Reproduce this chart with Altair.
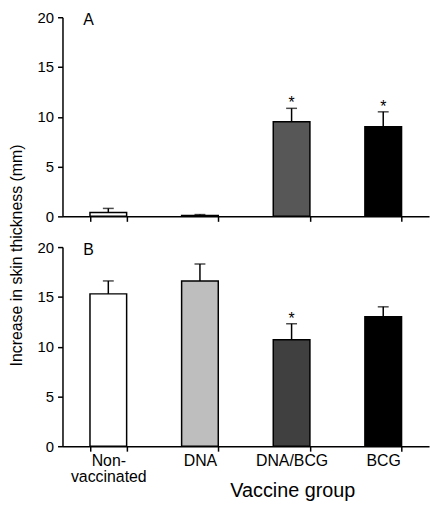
import altair as alt
import pandas as pd

categories = ["Non-vaccinated", "DNA", "DNA/BCG", "BCG"]
fills_a = ["#ffffff", "#bebebe", "#575757", "#000000"]
fills_b = ["#ffffff", "#bebebe", "#404040", "#000000"]

a_mean = [0.4, 0.1, 9.5, 9.0]
a_err = [0.4, 0.08, 1.35, 1.5]
a_sig = [False, False, True, True]

b_mean = [15.3, 16.6, 10.7, 13.0]
b_err = [1.3, 1.7, 1.6, 1.0]
b_sig = [False, False, True, False]

y_ticks = [0, 5, 10, 15, 20]
FONT = "Liberation Sans"
W, H = 370, 201


def frame(means, errs, sigs):
    return pd.DataFrame({
        "group": categories,
        "mean": means,
        "top": [m + e for m, e in zip(means, errs)],
        "sig": sigs,
    })


def panel(df, letter, fills, bottom):
    xscale = alt.Scale(domain=categories, paddingInner=0.6, paddingOuter=0.3)
    yscale = alt.Scale(domain=[0, 20], nice=False)
    if bottom:
        xaxis = alt.Axis(
            title="Vaccine group", tickBand="extent", tickSize=5, labelAngle=0,
            labelFontSize=16, labelPadding=1, labelLineHeight=17,
            labelExpr="datum.value == 'Non-vaccinated' ? ['Non-', 'vaccinated'] : datum.value",
            titleFontSize=20, titleFontWeight="normal", titleX=232, titleY=51,
            titleAlign="center", titleBaseline="alphabetic",
        )
        yaxis = alt.Axis(
            values=y_ticks, tickSize=5, labelFontSize=15, labelPadding=4, grid=False,
            title="Increase in skin thickness (mm)", titleFontSize=16,
            titleFontWeight="normal", titleX=-46, titleY=8, titleAngle=270,
            titleAlign="center", titleBaseline="middle",
        )
    else:
        xaxis = alt.Axis(title=None, labels=False, tickBand="extent", tickSize=5)
        yaxis = alt.Axis(values=y_ticks, tickSize=5, labelFontSize=15,
                         labelPadding=4, grid=False, title=None)

    base = alt.Chart(df)
    x = alt.X("group:N", scale=xscale, axis=xaxis, sort=categories)
    bars = base.mark_bar(stroke="black", strokeWidth=1.5).encode(
        x=x,
        y=alt.Y("mean:Q", scale=yscale, axis=yaxis),
        color=alt.Color("group:N", scale=alt.Scale(domain=categories, range=fills), legend=None),
    )
    err = base.mark_rule(color="black", strokeWidth=1.5).encode(
        x=alt.X("group:N", sort=categories), y="mean:Q", y2="top:Q"
    )
    cap = base.mark_tick(color="black", size=11, thickness=1.5).encode(
        x=alt.X("group:N", sort=categories), y="top:Q"
    )
    star = base.transform_filter("datum.sig").mark_text(
        text="*", fontSize=16, baseline="alphabetic", font=FONT, color="black"
    ).encode(x=alt.X("group:N", sort=categories), y="top:Q")
    lab = alt.Chart(pd.DataFrame({"label": [letter]})).mark_text(
        fontSize=16, align="left", baseline="alphabetic", font=FONT, color="black"
    ).encode(x=alt.value(21), y=alt.value(8), text="label:N")
    return alt.layer(bars, err, cap, star, lab).resolve_scale(color="independent").properties(width=W, height=H)


top = panel(frame(a_mean, a_err, a_sig), "A", fills_a, False)
bot = panel(frame(b_mean, b_err, b_sig), "B", fills_b, True)

chart = alt.vconcat(top, bot, spacing=31, bounds="flush").resolve_scale(
    color="independent"
).properties(
    padding={"left": 0, "top": 0, "right": 5, "bottom": 0}
).configure_view(stroke=None).configure_axis(
    domainColor="black", tickColor="black", domainWidth=1.5, tickWidth=1.5,
    labelColor="black", titleColor="black", labelFont=FONT, titleFont=FONT,
)

chart.save("out.html", embed_options={"renderer": "svg", "actions": False})
